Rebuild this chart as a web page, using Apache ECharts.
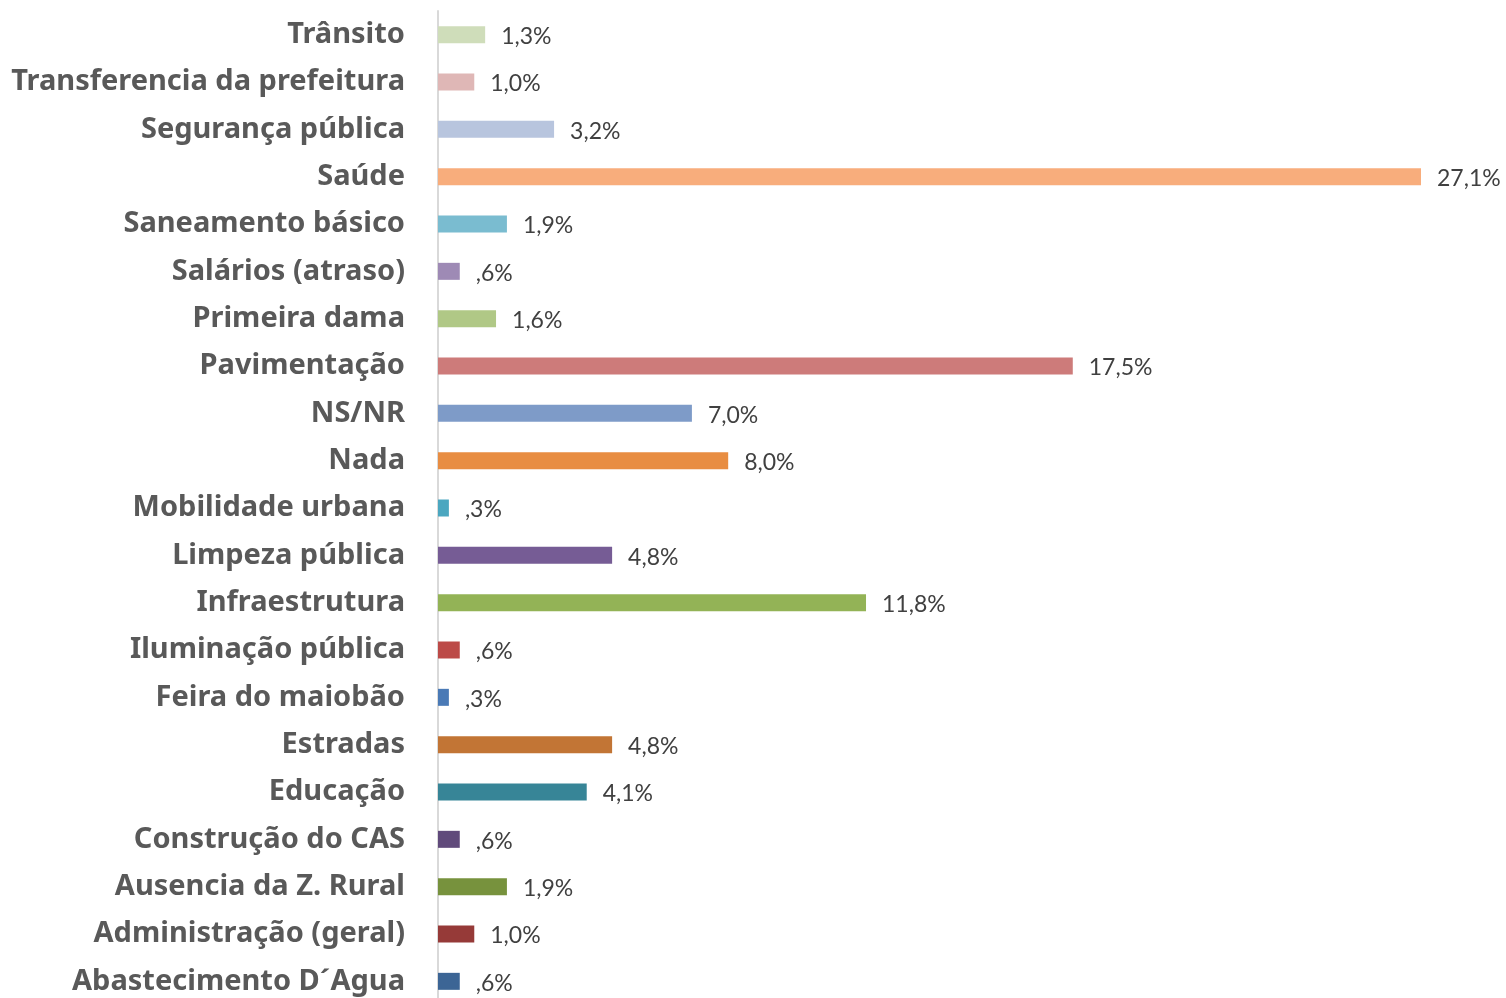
<!DOCTYPE html>
<html>
<head>
<meta charset="utf-8">
<script src="https://cdn.jsdelivr.net/npm/echarts@6/dist/echarts.min.js"></script>
<style>
  html, body { margin: 0; padding: 0; background: #ffffff; }
  #grafico { width: 1506px; height: 998px; }
</style>
</head>
<body>
<div id="grafico"></div>
<script>
// Categorias de baixo para cima (ordem do eixo)
const categorias = [
    'Abastecimento D´Agua', 'Administração (geral)', 'Ausencia da Z. Rural', 'Construção do CAS',
    'Educação', 'Estradas', 'Feira do maiobão', 'Iluminação pública', 'Infraestrutura',
    'Limpeza pública', 'Mobilidade urbana', 'Nada', 'NS/NR', 'Pavimentação', 'Primeira dama',
    'Salários (atraso)', 'Saneamento básico', 'Saúde', 'Segurança pública',
    'Transferencia da prefeitura', 'Trânsito'
];

const valores = [
    0.6, 1.0, 1.9, 0.6,
    4.1, 4.8, 0.3, 0.6, 11.8,
    4.8, 0.3, 8.0, 7.0, 17.5, 1.6,
    0.6, 1.9, 27.1, 3.2,
    1.0, 1.3
];

const cores = [
    '#3C6595', '#963A38', '#77923D', '#604A7B',
    '#378597', '#C27535', '#4A7AB6', '#BC4A47', '#93B356',
    '#765C95', '#4BA7C0', '#E88D42', '#7E9BC8', '#CD7B7A', '#B0C886',
    '#9E8AB5', '#7ABCD0', '#F8AD7C', '#B8C5DE',
    '#DFB7B6', '#CFDDBA'
];

// ",6%" para valores abaixo de 1, como no original
function formatarPct(v) {
    let txt = v.toFixed(1).replace('.', ',');
    if (txt.startsWith('0')) txt = txt.substring(1);
    return txt + '%';
}

const grafico = echarts.init(document.getElementById('grafico'));

grafico.setOption({
    animation: false,
    grid: { left: 438, width: 983, top: 11, height: 994, outerBoundsMode: 'none' },
    xAxis: {
        type: 'value',
        min: 0,
        max: 27.1,
        show: false
    },
    yAxis: {
        type: 'category',
        data: categorias,
        axisLine: { show: true, lineStyle: { color: '#D9D9D9', width: 2 } },
        axisTick: { show: false },
        axisLabel: {
            color: '#595959',
            fontFamily: 'Noto Sans',
            fontWeight: 'bold',
            fontSize: 29,
            margin: 33,
            padding: [5, 0, 0, 0]
        }
    },
    series: [{
        type: 'bar',
        barWidth: 17,
        data: valores.map((v, i) => ({ value: v, itemStyle: { color: cores[i] } })),
        label: {
            show: true,
            position: 'right',
            distance: 16,
            color: '#404040',
            fontFamily: 'Lato',
            fontSize: 23,
            offset: [0, 2],
            formatter: p => formatarPct(p.value)
        }
    }]
});
</script>
</body>
</html>
